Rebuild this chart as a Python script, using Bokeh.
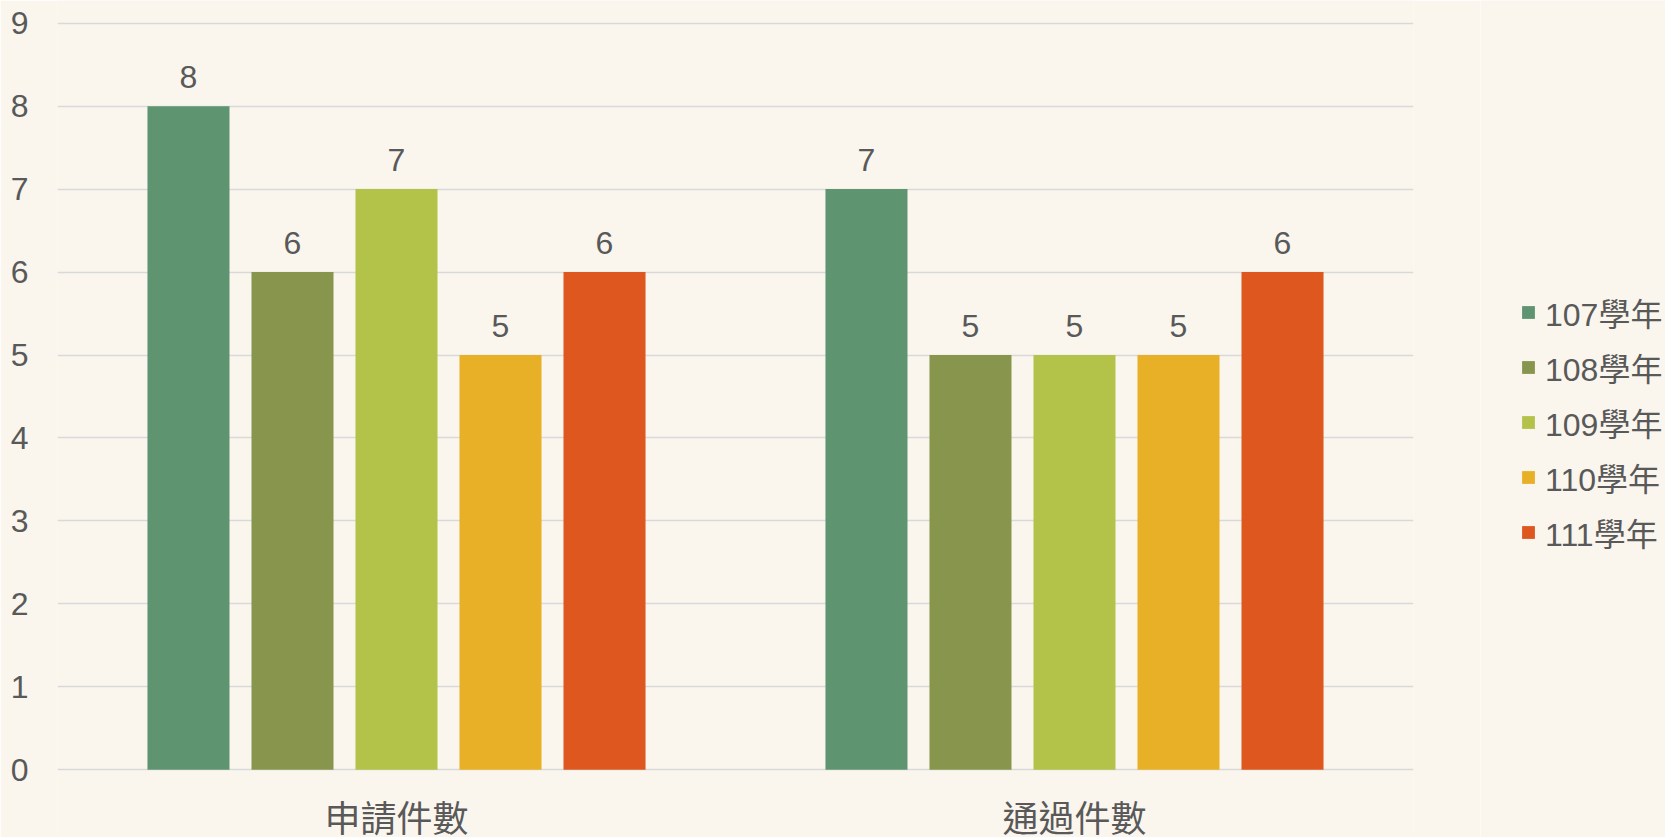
from bokeh.plotting import figure
from bokeh.layouts import row
from bokeh.models import (ColumnDataSource, FactorRange, Legend, LegendItem,
                          LabelSet, Range1d, FixedTicker)
from bokeh.core.properties import value
from bokeh.transform import dodge
from bokeh.embed import file_html
from bokeh.resources import INLINE

# ---- data ----
categories = ["申請件數", "通過件數"]
years = ["107學年", "108學年", "109學年", "110學年", "111學年"]
v107 = [8, 7]
v108 = [6, 5]
v109 = [7, 5]
v110 = [5, 5]
v111 = [6, 6]
y_ticks = [0, 1, 2, 3, 4, 5, 6, 7, 8, 9]

series = [v107, v108, v109, v110, v111]
colors = ["#5E9470", "#87964C", "#B3C249", "#E8B027", "#DD571E"]

BG = "#FAF6EE"
TXT = "#595959"
FONT = "Liberation Sans, Noto Sans CJK TC, sans-serif"

H = 837
p = figure(x_range=FactorRange(factors=categories), y_range=Range1d(-0.8157, 9.2735),
           width=1480, height=H, output_backend="svg", toolbar_location=None,
           min_border_left=57, min_border_right=67, min_border_top=0,
           min_border_bottom=0, background_fill_color=BG, border_fill_color=BG,
           outline_line_color=None)

src = {"cat": categories}
for i, s in enumerate(series):
    src["v%d" % i] = s
    src["t%d" % i] = [str(v) for v in s]
src["zero"] = [0, 0]
source = ColumnDataSource(src)

step = 0.1534
width = 0.121
for i in range(5):
    off = (i - 2) * step
    p.vbar(x=dodge("cat", off, range=p.x_range), top="v%d" % i, width=width,
           source=source, fill_color=colors[i], line_color=None)
    lbl = LabelSet(x=dodge("cat", off, range=p.x_range), y="v%d" % i, text="t%d" % i,
                   source=source, text_align="center", text_baseline="alphabetic",
                   y_offset=18, text_font_size="32px", text_color=TXT,
                   text_font=value(FONT))
    p.add_layout(lbl)

cat_lbl = LabelSet(x="cat", y="zero", text="cat", source=source, text_align="center",
                   text_baseline="top", y_offset=-29, text_font_size="36px",
                   text_color=TXT, text_font=value(FONT))
p.add_layout(cat_lbl)

p.xaxis.visible = False
p.xgrid.visible = False
p.ygrid.ticker = FixedTicker(ticks=y_ticks)
p.ygrid.grid_line_color = "#D9D9DC"
p.ygrid.grid_line_width = 1.5
p.yaxis.ticker = FixedTicker(ticks=y_ticks)
p.yaxis.axis_line_color = None
p.yaxis.major_tick_line_color = None
p.yaxis.minor_tick_line_color = None
p.yaxis.major_tick_in = 0
p.yaxis.major_tick_out = 0
p.yaxis.major_label_standoff = 29
p.yaxis.major_label_text_font_size = "32px"
p.yaxis.major_label_text_color = TXT
p.yaxis.major_label_text_font = FONT

# ---- legend panel ----
pl = figure(width=1665 - 1480, height=H, output_backend="svg", toolbar_location=None,
            x_range=Range1d(0, 1), y_range=Range1d(0, 1),
            min_border_left=0, min_border_right=0, min_border_top=0,
            min_border_bottom=0, background_fill_color=BG, border_fill_color=BG,
            outline_line_color=None)
pl.axis.visible = False
pl.grid.visible = False
items = []
for i in range(5):
    # legend-only swatch renderer, kept outside this panel's visible range
    r = pl.vbar(x=[years[i] and 10], top=[v107[0]], width=0.1,
                fill_color=colors[i], line_color=None)
    items.append(LegendItem(label=years[i], renderers=[r]))

legend = Legend(items=items, location=(40, 282), orientation="vertical",
                glyph_width=16, glyph_height=16, label_height=35, spacing=9,
                padding=0, margin=0, border_line_color=None,
                background_fill_alpha=0, label_standoff=9,
                label_text_font_size="32px", label_text_color=TXT,
                label_text_font=FONT)
pl.add_layout(legend)

layout = row(p, pl, spacing=0)
open("out.html", "w").write(file_html(layout, INLINE))
